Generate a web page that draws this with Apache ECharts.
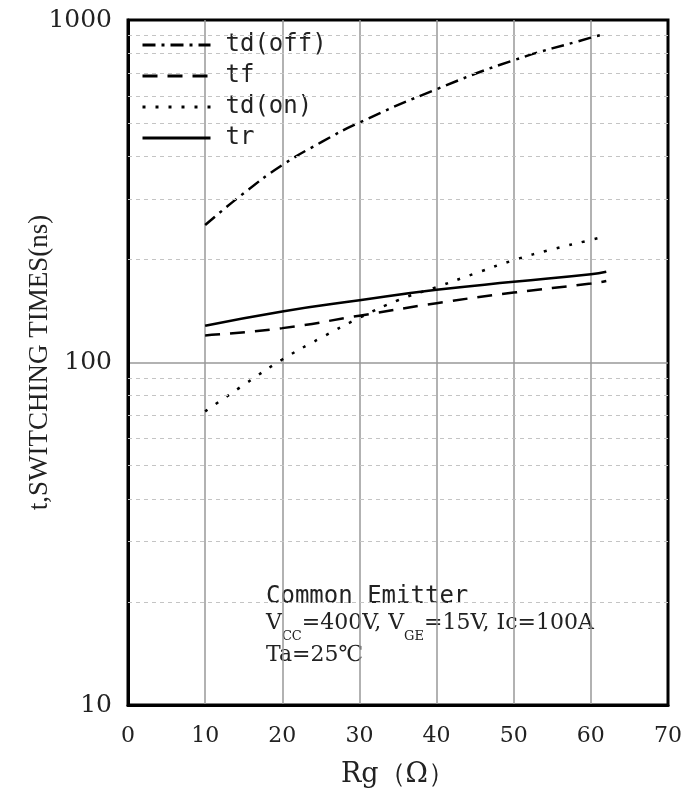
<!DOCTYPE html>
<html>
<head>
<meta charset="utf-8">
<script src="https://cdn.jsdelivr.net/npm/echarts@6/dist/echarts.min.js"></script>
<style>
  html, body { margin: 0; padding: 0; background: #fff; }
</style>
</head>
<body>
<div id="main" style="width: 688px;height:798px;"></div>
<script>
// values (Rg in ohm, time in ns)
var xTicks = [0, 10, 20, 30, 40, 50, 60, 70]
var yMinorLines = [20, 30, 40, 50, 60, 70, 80, 90, 200, 300, 400, 500, 600, 700, 800, 900]

var rgOff = [10, 15, 20, 25, 30, 40, 50, 60, 61.3]
var tdOff = [252, 312, 377, 439, 502, 628, 763, 888, 904]

var rgTf = [10, 20, 30, 40, 50, 60, 62]
var tf = [120, 126, 137, 149, 160, 170, 173]

var rgOn = [10, 15, 20, 25, 30, 35, 40, 45, 50, 55, 60, 61]
var tdOn = [72, 86, 102, 118, 135, 152, 166, 182, 199, 214, 228, 231]

var rgTr = [10, 20, 30, 40, 50, 60, 62]
var tr = [128, 141, 152, 163, 172, 181, 184]

var names = ['td(off)', 'tf', 'td(on)', 'tr']

function pairs (xs, ys) {
  return xs.map(function (x, i) {
    return [x, ys[i]]
  })
}

var serif = 'DejaVu Serif'
var mono = 'DejaVu Sans Mono'

var myChart = echarts.init(document.getElementById('main'))

var option = {
  backgroundColor: '#fff',
  animation: false,
  color: ['#000', '#000', '#000', '#000'],
  grid: {
    left: 128,
    right: 20,
    top: 20,
    bottom: 93,
    show: true,
    borderColor: '#000',
    borderWidth: 3
  },
  legend: {
    orient: 'vertical',
    left: 136,
    top: 28,
    itemWidth: 68,
    itemHeight: 14,
    itemGap: 7,
    data: names,
    itemStyle: { opacity: 0 },
    lineStyle: { width: 3 },
    textStyle: {
      fontFamily: mono,
      fontSize: 24,
      color: '#222',
      padding: [0, 0, 0, 10]
    }
  },
  xAxis: {
    type: 'value',
    min: 0,
    max: 70,
    interval: 10,
    name: 'Rg（Ω）',
    nameLocation: 'middle',
    nameGap: 56,
    nameTextStyle: {
      fontFamily: serif,
      fontSize: 27,
      color: '#222'
    },
    axisLine: { lineStyle: { color: '#000', width: 3 } },
    axisTick: { show: false },
    axisLabel: {
      margin: 20,
      fontFamily: serif,
      fontSize: 22,
      color: '#222'
    },
    splitLine: {
      show: true,
      showMinLine: false,
      showMaxLine: false,
      lineStyle: { color: '#999', width: 1.5 }
    }
  },
  yAxis: {
    type: 'log',
    logBase: 10,
    min: 10,
    max: 1000,
    name: 't,SWITCHING TIMES(ns)',
    nameLocation: 'middle',
    nameGap: 75,
    nameMoveOverlap: false,
    nameTextStyle: {
      fontFamily: 'Liberation Serif',
      fontSize: 27,
      color: '#222'
    },
    axisLine: { lineStyle: { color: '#000', width: 3 } },
    axisTick: { show: false },
    axisLabel: {
      margin: 16,
      fontFamily: serif,
      fontSize: 25,
      color: '#222',
      formatter: function (v) {
        return String(v)
      }
    },
    splitLine: {
      show: true,
      showMinLine: false,
      showMaxLine: false,
      lineStyle: { color: '#999', width: 1.5 }
    }
  },
  graphic: [
    {
      type: 'text',
      left: 266,
      top: 585,
      style: {
        text: 'Common Emitter',
        font: '24px "DejaVu Sans Mono"',
        fill: '#222'
      }
    },
    {
      type: 'text',
      left: 266,
      top: 612,
      style: {
        text: '{a|V}{s|CC}{a|=400V, V}{s|GE}{a|=15V, Ic=100A}',
        fill: '#222',
        rich: {
          a: { fontFamily: serif, fontSize: 22, fill: '#222', height: 28, verticalAlign: 'top' },
          s: { fontFamily: serif, fontSize: 13, fill: '#222', height: 28, verticalAlign: 'bottom', padding: [14, 0, 0, 0] }
        }
      }
    },
    {
      type: 'text',
      left: 266,
      top: 644,
      style: {
        text: 'Ta=25℃',
        font: '22px "DejaVu Serif"',
        fill: '#222'
      }
    }
  ],
  series: [
    {
      name: names[0],
      type: 'line',
      smooth: true,
      symbol: 'none',
      data: pairs(rgOff, tdOff),
      lineStyle: { color: '#000', width: 2.5, type: [13, 6, 3, 6] },
      markLine: {
        silent: true,
        symbol: ['none', 'none'],
        label: { show: false },
        lineStyle: { type: [4, 4], color: '#c4c4c4', width: 1 },
        data: yMinorLines.map(function (v) {
          return { yAxis: v }
        })
      },
      z: 3
    },
    {
      name: names[1],
      type: 'line',
      smooth: true,
      symbol: 'none',
      data: pairs(rgTf, tf),
      lineStyle: { color: '#000', width: 2.5, type: [15, 10] },
      z: 3
    },
    {
      name: names[2],
      type: 'line',
      smooth: true,
      symbol: 'none',
      data: pairs(rgOn, tdOn),
      lineStyle: { color: '#000', width: 2.5, type: [3, 10] },
      z: 3
    },
    {
      name: names[3],
      type: 'line',
      smooth: true,
      symbol: 'none',
      data: pairs(rgTr, tr),
      lineStyle: { color: '#000', width: 2.5 },
      z: 3
    }
  ]
}

myChart.setOption(option, true)
</script>
</body>
</html>
